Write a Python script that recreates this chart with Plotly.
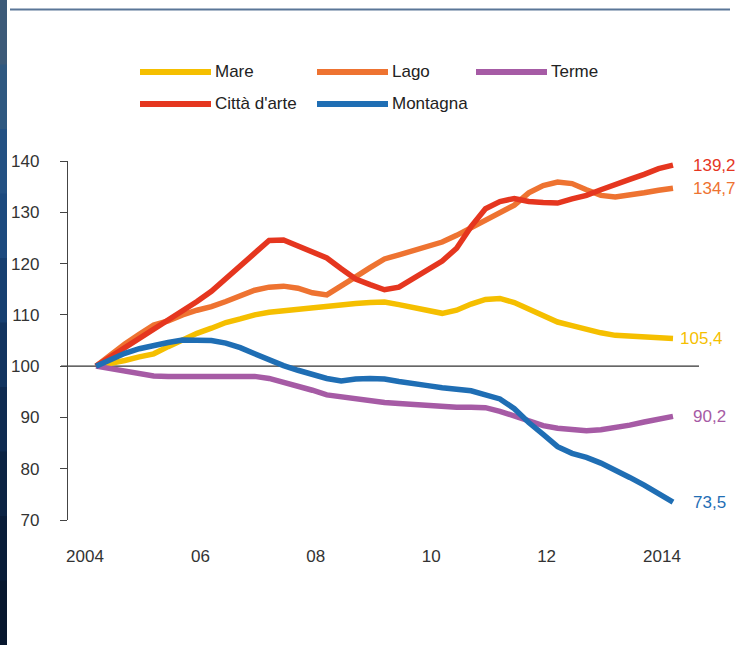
import plotly.graph_objects as go

# ---------------- data ----------------
quarters = [2004 + q * 0.25 for q in range(41)]

series_names = ["Mare", "Lago", "Terme", "Città d'arte", "Montagna"]

mare = [100, 100.5, 101.1, 101.8, 102.4, 103.8, 105.2, 106.4, 107.4, 108.5,
        109.2, 110.0, 110.5, 110.8, 111.1, 111.5, 111.7, 111.9, 112.2, 112.4,
        112.5, 112.0, 111.4, 110.8, 110.3, 110.9, 112.1, 113.0, 113.2, 112.4,
        111.2, 109.9, 108.6, 107.9, 107.1, 106.5, 106.0, 105.8, 105.6, 105.5,
        105.4]
lago = [100, 102.2, 104.3, 106.2, 108.0, 108.8, 110.0, 110.9, 111.6, 112.6,
        113.7, 114.8, 115.4, 115.6, 115.2, 114.3, 113.9, 115.5, 117.4, 119.2,
        120.9, 121.7, 122.5, 123.4, 124.2, 125.5, 127.0, 128.6, 130.1, 131.4,
        133.8, 135.2, 135.9, 135.6, 134.4, 133.3, 133.0, 133.3, 133.8, 134.3,
        134.7]
terme = [100, 99.5, 99.0, 98.6, 98.1, 98.0, 98.0, 98.0, 98.0, 98.0,
         98.0, 98.0, 97.6, 96.9, 96.1, 95.3, 94.4, 94.0, 93.6, 93.2,
         92.9, 92.7, 92.5, 92.3, 92.1, 92.0, 92.0, 91.9, 91.2, 90.3,
         89.2, 88.4, 87.9, 87.6, 87.4, 87.6, 88.0, 88.5, 89.1, 89.6,
         90.2]
citta = [100, 101.8, 103.7, 105.4, 107.3, 109.0, 110.6, 112.6, 114.6, 117.1,
         119.4, 121.9, 124.5, 124.6, 123.4, 122.2, 121.1, 119.0, 117.0, 115.9,
         114.9, 115.4, 117.0, 118.8, 120.5, 123.0, 127.2, 130.7, 132.1, 132.7,
         132.1, 131.9, 131.8, 132.6, 133.3, 134.4, 135.3, 136.4, 137.4, 138.5,
         139.2]
montagna = [100, 101.3, 102.5, 103.4, 104.1, 104.6, 105.1, 105.1, 105.0, 104.5,
            103.6, 102.4, 101.2, 100.1, 99.2, 98.3, 97.6, 97.1, 97.5, 97.6,
            97.5, 97.0, 96.5, 96.2, 95.8, 95.4, 95.2, 94.4, 93.6, 91.7,
            89.0, 86.7, 84.3, 83.0, 82.2, 81.1, 79.8, 78.3, 76.8, 75.1,
            73.5]

end_labels = ["105,4", "134,7", "90,2", "139,2", "73,5"]

x_tick_vals = [2004, 2006, 2008, 2010, 2012, 2014]
x_tick_text = ["2004", "06", "08", "10", "12", "2014"]
y_tick_vals = [70, 80, 90, 100, 110, 120, 130, 140]

colors = ["#F5BF00", "#EE7331", "#A65BA5", "#E5361F", "#1F6EB4"]
all_values = [mare, lago, terme, citta, montagna]

# ---------------- geometry helpers (pixels -> paper) ----------------
W, H = 735, 645
L, R, T, B = 68, 36, 161, 125
PW, PH = W - L - R, H - T - B


def px(xp):
    return (xp - L) / PW


def py(yp):
    return (H - B - yp) / PH


FONT = "Liberation Sans, Arial, sans-serif"

fig = go.Figure()

for name, vals, col in zip(series_names, all_values, colors):
    fig.add_trace(go.Scatter(
        x=quarters, y=vals, mode="lines", name=name,
        line=dict(color=col, width=5.5), showlegend=False,
        hoverinfo="x+y+name"))

shapes = []
annotations = []

# reference line at 100
shapes.append(dict(type="line", xref="paper", yref="y",
                   x0=px(61), x1=px(699), y0=100, y1=100,
                   line=dict(color="#333333", width=1.3), layer="below"))

# end-value labels
for vals, lab, col in zip(all_values, end_labels, colors):
    shift = 5 if lab == "105,4" else 18
    annotations.append(dict(x=quarters[-1], y=vals[-1], xref="x", yref="y",
                            text=lab, showarrow=False, xanchor="left",
                            yanchor="middle", xshift=shift,
                            font=dict(family=FONT, size=17, color=col)))

# manual legend
legend_pos = [(140, 72), (317, 72), (476, 72), (140, 104), (317, 104)]
for (lx, ly), name, col in zip(legend_pos, series_names, colors):
    shapes.append(dict(type="line", xref="paper", yref="paper",
                       x0=px(lx), x1=px(lx + 71), y0=py(ly), y1=py(ly),
                       line=dict(color=col, width=6)))
    annotations.append(dict(x=px(lx + 73), y=py(ly - 1), xref="paper",
                            yref="paper", text=name, showarrow=False,
                            xanchor="left", yanchor="middle",
                            font=dict(family=FONT, size=17, color="#222222")))

# decorative left strip (gradient) and top rule
strip_cols = ["#3c5a78", "#2f5880", "#245183", "#1d4a7e", "#173f70",
              "#12345f", "#0e2a50", "#0b2343", "#091c38", "#07172e"]
n = len(strip_cols)
for i, c in enumerate(strip_cols):
    shapes.append(dict(type="rect", xref="paper", yref="paper",
                       x0=px(0), x1=px(7),
                       y0=py(H * (i + 1) / n + 0.5), y1=py(H * i / n),
                       fillcolor=c, line=dict(width=0), layer="above"))
shapes.append(dict(type="line", xref="paper", yref="paper",
                   x0=px(10), x1=px(730), y0=py(9.5), y1=py(9.5),
                   line=dict(color="#5a7698", width=2)))

fig.update_layout(
    width=W, height=H,
    margin=dict(l=L, r=R, t=T, b=B, pad=0),
    paper_bgcolor="white", plot_bgcolor="white",
    font=dict(family=FONT, size=17, color="#333333"),
    shapes=shapes, annotations=annotations,
    xaxis=dict(range=[2004 - 28 / 57.7, 2004 + (699 - 96) / 57.7],
               tickvals=x_tick_vals, ticktext=x_tick_text,
               showgrid=False, zeroline=False, showline=False, ticks="",
               ticklabelshift=-11, ticklabelstandoff=24,
               tickfont=dict(family=FONT, size=17, color="#333333")),
    yaxis=dict(range=[70, 140], tickvals=y_tick_vals,
               showgrid=False, zeroline=False, showline=True,
               linecolor="#444444", linewidth=1.3,
               ticks="outside", ticklen=7, tickcolor="#444444", tickwidth=1.3,
               ticklabelstandoff=17,
               tickfont=dict(family=FONT, size=17, color="#333333")),
    showlegend=False,
)

fig.write_html(
    "out.html",
    config={"displayModeBar": False},
    post_script="document.body.style.margin='0';document.body.style.padding='0';",
)
